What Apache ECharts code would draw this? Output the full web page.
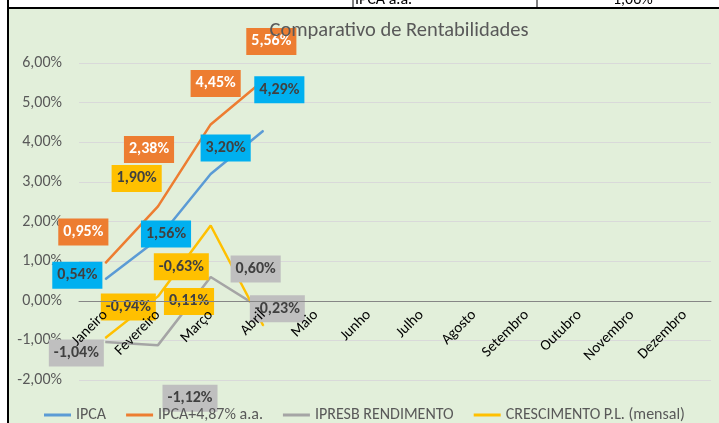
<!DOCTYPE html>
<html>
<head>
<meta charset="utf-8">
<script src="https://cdn.jsdelivr.net/npm/echarts@6/dist/echarts.min.js"></script>
<style>
  html, body { margin: 0; padding: 0; background: #fff; }
  #Chart1 { width: 719px; height: 423px; }
</style>
</head>
<body>
<div id="Chart1"></div>
<script>
// Comparativo de Rentabilidades
var meses = ["Janeiro", "Fevereiro", "Março", "Abril", "Maio", "Junho", "Julho",
  "Agosto", "Setembro", "Outubro", "Novembro", "Dezembro"];
var ipca = [0.54, 1.56, 3.20, 4.29];
var ipcaMeta = [0.95, 2.38, 4.45, 5.56];
var ipresb = [-1.04, -1.12, 0.60, -0.23];
var crescimento = [-0.94, 0.11, 1.90, -0.63];

// deslocamento dos rótulos (px), como estão no gráfico do Excel
var offIpca = [[-28, -4], [8, -5], [15, -26], [16, -41]];
var offMeta = [[-22, -31], [-9, -57], [5, -41], [8, -39]];
var offIpresb = [[-29, 11], [32, 53], [45, -8], [14, -1]];
var offCresc = [[23, -31], [31, 5], [-74, -47], [-82, -59]];

var fonte = "Carlito, Lato, sans-serif";

function pct(v) {
  return v.toFixed(2).replace(".", ",") + "%";
}

function serie(nome, valores, offsets, cor, fundo, corTexto) {
  return {
    name: nome,
    type: "line",
    symbol: "circle",
    symbolSize: 1,
    lineStyle: { width: 2.5, color: cor },
    itemStyle: { color: cor },
    data: valores.map(function (v, i) {
      return { value: v, label: { offset: offsets[i] } };
    }),
    label: {
      show: true,
      position: "inside",
      formatter: function (p) { return pct(p.value); },
      backgroundColor: fundo,
      color: corTexto,
      fontFamily: fonte,
      fontWeight: "bold",
      fontSize: 16,
      padding: [6, 5, 5, 5]
    },
    z: 3
  };
}

var Chart1 = echarts.init(document.getElementById("Chart1"));
option = {
  backgroundColor: "#E2EFDA",
  animation: false,
  title: {
    text: "Comparativo de Rentabilidades",
    left: 394,
    top: 15,
    textAlign: "center",
    textStyle: { fontFamily: fonte, fontSize: 20.5, fontWeight: "normal", color: "#595959" }
  },
  grid: { left: 79, right: 8, top: 63, bottom: 43, containLabel: false, outerBoundsMode: "none" },
  legend: {
    left: 39,
    top: 402,
    icon: "rect",
    itemWidth: 27,
    itemHeight: 3,
    itemGap: 20,
    textStyle: { fontFamily: fonte, fontSize: 16, color: "#595959" },
    data: ["IPCA", "IPCA+4,87% a.a.", "IPRESB RENDIMENTO", "CRESCIMENTO P.L. (mensal)"]
  },
  xAxis: {
    type: "category",
    data: meses,
    boundaryGap: true,
    offset: -79.25,
    z: 10,
    axisLine: { onZero: false, lineStyle: { color: "#868686", width: 1 } },
    axisTick: { show: false },
    axisLabel: {
      rotate: 45,
      margin: 12,
      interval: 0,
      color: "#000",
      fontFamily: fonte,
      fontSize: 15
    }
  },
  yAxis: {
    type: "value",
    min: -2,
    max: 6,
    interval: 1,
    axisLine: { show: false },
    axisTick: { show: false },
    splitLine: { lineStyle: { color: "#D9D9D9", width: 1 } },
    axisLabel: {
      margin: 17,
      color: "#595959",
      fontFamily: fonte,
      fontSize: 16,
      formatter: function (v) { return pct(v); }
    }
  },
  graphic: [
    { type: "rect", shape: { x: 0, y: 0, width: 719, height: 7 }, style: { fill: "#fff" }, z: 10 },
    { type: "rect", shape: { x: 0, y: 0, width: 7, height: 423 }, style: { fill: "#fff" }, z: 10 },
    { type: "line", shape: { x1: 7, y1: 8, x2: 719, y2: 8 }, style: { stroke: "#000", lineWidth: 2 }, z: 11 },
    { type: "line", shape: { x1: 8, y1: 0, x2: 8, y2: 423 }, style: { stroke: "#000", lineWidth: 2 }, z: 11 },
    { type: "line", shape: { x1: 353, y1: 0, x2: 353, y2: 8 }, style: { stroke: "#000", lineWidth: 1 }, z: 11 },
    { type: "line", shape: { x1: 537, y1: 0, x2: 537, y2: 8 }, style: { stroke: "#000", lineWidth: 1 }, z: 11 },
    { type: "text", z: 11,
      style: { x: 355, y: 8, text: "IPCA a.a.", font: "16px " + fonte, fill: "#000", verticalAlign: "bottom" } },
    { type: "text", z: 11,
      style: { x: 613, y: 8, text: "1,06%", font: "16px " + fonte, fill: "#000", verticalAlign: "bottom" } }
  ],
  series: [
    serie("IPCA", ipca, offIpca, "#5B9BD5", "#00B0F0", "#404040"),
    serie("IPCA+4,87% a.a.", ipcaMeta, offMeta, "#ED7D31", "#ED7D31", "#fff"),
    serie("IPRESB RENDIMENTO", ipresb, offIpresb, "#A5A5A5", "#BFBFBF", "#404040"),
    serie("CRESCIMENTO P.L. (mensal)", crescimento, offCresc, "#FFC000", "#FFC000", "#404040")
  ]
};

Chart1.setOption(option);
</script>
</body>
</html>
